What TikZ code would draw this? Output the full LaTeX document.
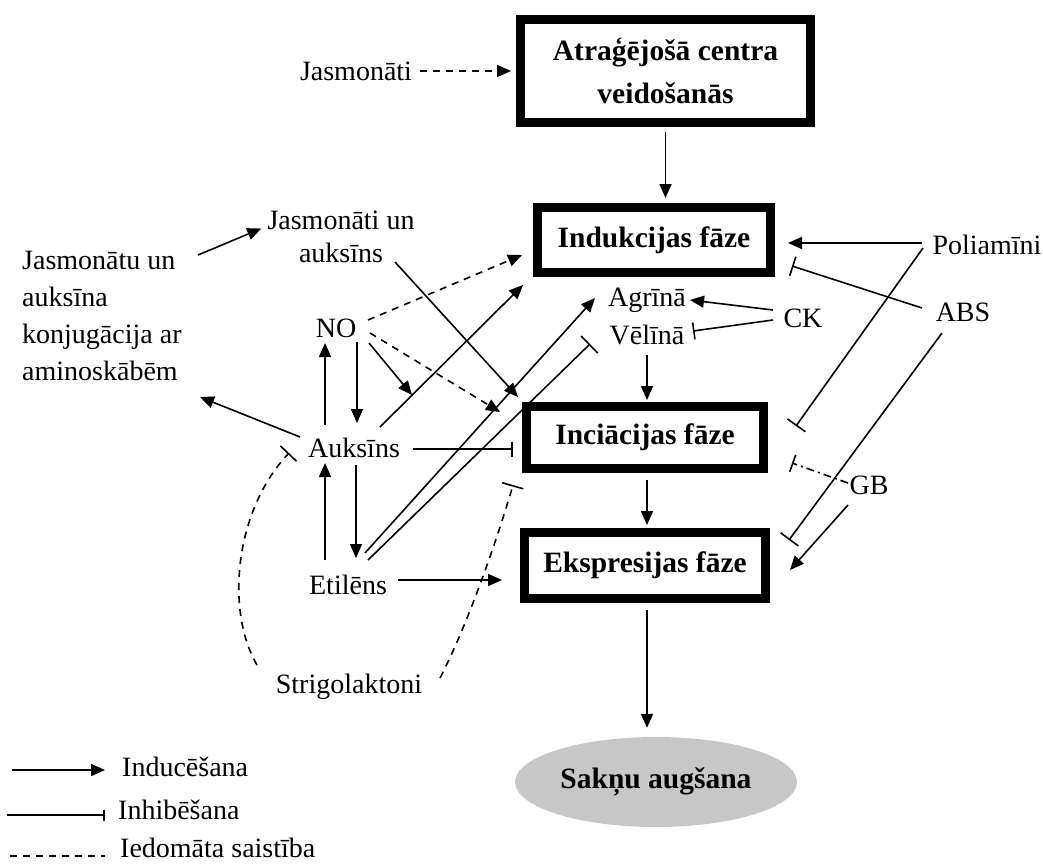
\documentclass[tikz,border=0pt]{standalone}
\usepackage{fontspec}
\setmainfont{Liberation Serif}
\usetikzlibrary{arrows.meta,calc,shapes.geometric}
\begin{document}
\begin{tikzpicture}[x=1pt,y=-1pt,
  txt/.style={font=\fontsize{28}{37}\selectfont, inner sep=2pt},
  phase/.style={draw, line width=9pt, align=center, inner sep=0pt,
                font=\fontsize{29.5}{43}\selectfont\bfseries},
  conn/.style={line width=1.6pt},
  ind/.style={conn, -{Triangle[length=14pt,width=12pt]}},
  inh/.style={conn, -{Bar[width=#1,line width=1.6pt]}},
  inh/.default=20pt,
  hyp/.style={dash pattern=on 7pt off 6pt},
  hypdot/.style={dash pattern=on 8pt off 4pt on 2pt off 4pt},
]
\useasboundingbox (0,0) rectangle (1043,863);

% phase boxes
\node[phase, minimum width=290pt, minimum height=103pt] (box1) at (665.5,71) {Atraģējošā centra\\veidošanās};
\node[phase, minimum width=233pt, minimum height=65pt] (box2) at (654,240) {Indukcijas fāze};
\node[phase, minimum width=237pt, minimum height=62pt] (box3) at (645,437.5) {Inciācijas fāze};
\node[phase, minimum width=241pt, minimum height=66pt] (box4) at (645,565.5) {Ekspresijas fāze};
\node[ellipse, fill=black!22, minimum width=282pt, minimum height=90pt, inner sep=0pt,
      font=\fontsize{29.5}{36}\selectfont\bfseries] (root) at (656,782) {Sakņu augšana};

% text nodes
\node[txt] (jas) at (356,71) {Jasmonāti};
\node[txt, align=center, font=\fontsize{28}{33}\selectfont] (jau) at (341,236.5) {Jasmonāti un\\auksīns};
\node[txt, align=left, anchor=west] (conj) at (20,316) {Jasmonātu un\\auksīna\\konjugācija ar\\aminoskābēm};
\node[txt] (NO) at (336,328) {NO};
\node[txt] (auk) at (354,448) {Auksīns};
\node[txt] (eti) at (348,585) {Etilēns};
\node[txt] (strig) at (349,687) {Strigolaktoni};
\node[txt] (agr) at (647,300) {Agrīnā};
\node[txt] (vel) at (647,335) {Vēlīnā};
\node[txt] (CK) at (803,318) {CK};
\node[txt] (poli) at (987,245) {Poliamīni};
\node[txt] (ABS) at (963,312) {ABS};
\node[txt] (GB) at (869,485) {GB};

% main chain
\draw[ind, hyp] ($(jas)+(64,0)$) -- ($(box1.west)+(-5,0)$);
\draw[ind, shorten <=5pt, shorten >=5pt] (box1.south) -- (box1.south |- box2.north);
\draw[ind, shorten <=2pt, shorten >=2pt] ($(vel)+(0,18)$) -- (vel |- box3.north);
\draw[ind, shorten <=7pt, shorten >=3pt] ($(box3.south)+(2,0)$) -- ($(box3.south |- box4.north)+(2,0)$);
\draw[ind, shorten <=7pt, shorten >=9pt] ($(box4.south)+(2,0)$) -- ($(box4.south |- root.north)+(2,0)$);

% left side
\draw[ind] ($(conj.west)+(178,-61)$) -- ($(jau.west)+(-4,-8)$);
\draw[ind] ($(auk)+(-54,-11)$) -- ($(conj.west)+(180,81)$);
\draw[ind] ($(jau)+(54,25.5)$) -- ($(box3.north west)+(-4,-5)$);
\draw[ind, hyp] ($(NO)+(32,-8)$) -- ($(box2.west)+(-11,15)$);
\draw[ind, hyp] ($(NO)+(34,5)$) -- ($(box3.north west)+(-22,10)$);
\draw[ind] ($(NO)+(33,15)$) -- ($(auk)+(58,-53)$);
\draw[ind] ($(auk)+(26,-21)$) -- ($(box2.south west)+(-10,8)$);
\draw[inh=15pt] ($(auk)+(59,1)$) -- ($(box3.west)+(-9,11.5)$);
\draw[ind] ($(auk)+(-29,-23)$) -- ($(NO)+(-11,15)$);
\draw[ind] ($(NO)+(21,14)$) -- ($(auk)+(3,-25)$);
\draw[ind] ($(eti)+(-23,-25)$) -- ($(auk)+(-29,15)$);
\draw[ind] ($(auk)+(2,17)$) -- ($(eti)+(8,-27)$);
\draw[ind] ($(eti)+(17,-32)$) -- ($(agr)+(-52,-2)$);
\draw[inh=24pt] ($(eti)+(20,-25)$) -- ($(vel)+(-57,9)$);
\draw[ind] ($(eti)+(50,-5)$) -- ($(box4.west)+(-18,14.5)$);
\draw[inh=22pt, hyp] ($(strig)+(-92,-22)$) .. controls (225,610) and (235,510) .. ($(auk)+(-65,5)$);
\draw[inh=22pt, hyp] ($(strig)+(91,-9)$) .. controls (470,620) and (500,530) .. ($(box3.south west)+(-9,12)$);

% right side
\draw[ind] ($(CK)+(-30,-8)$) -- ($(agr)+(43,0)$);
\draw[inh=17pt] ($(CK)+(-30,2)$) -- ($(vel)+(46,-4)$);
\draw[ind] ($(poli)+(-65,-2)$) -- ($(box2.east)+(13,3)$);
\draw[inh=20pt] ($(ABS)+(-41,-4)$) -- ($(box2.south east)+(17,-11)$);
\draw[inh=22pt] ($(poli)+(-64,3)$) -- ($(box3.north east)+(28,24)$);
\draw[inh=22pt] ($(ABS)+(-21,21)$) -- ($(box4.north east)+(19,12)$);
\draw[ind] ($(GB)+(-21,20)$) -- ($(box4.east)+(20,4.5)$);
\draw[inh=18pt, hypdot] ($(GB)+(-21,-2)$) -- ($(box3.south east)+(24,-10)$);

% legend
\node[txt, anchor=west] (leg1) at (120,767) {Inducēšana};
\node[txt, anchor=west] (leg2) at (116,810) {Inhibēšana};
\node[txt, anchor=west] (leg3) at (118,848) {Iedomāta saistība};
\coordinate (l1) at ($(leg1.west)+(-108,3)$);
\coordinate (l2) at ($(leg2.west)+(-109,5)$);
\coordinate (l3) at ($(leg3.west)+(-108,8)$);
\draw[ind] (l1) -- ($(leg1.west)+(-15,3)$);
\draw[inh=11pt] (l2) -- ($(leg2.west)+(-11,5)$);
\draw[conn, hyp] (l3) -- ($(leg3.west)+(-13,8)$);
\end{tikzpicture}
\end{document}
